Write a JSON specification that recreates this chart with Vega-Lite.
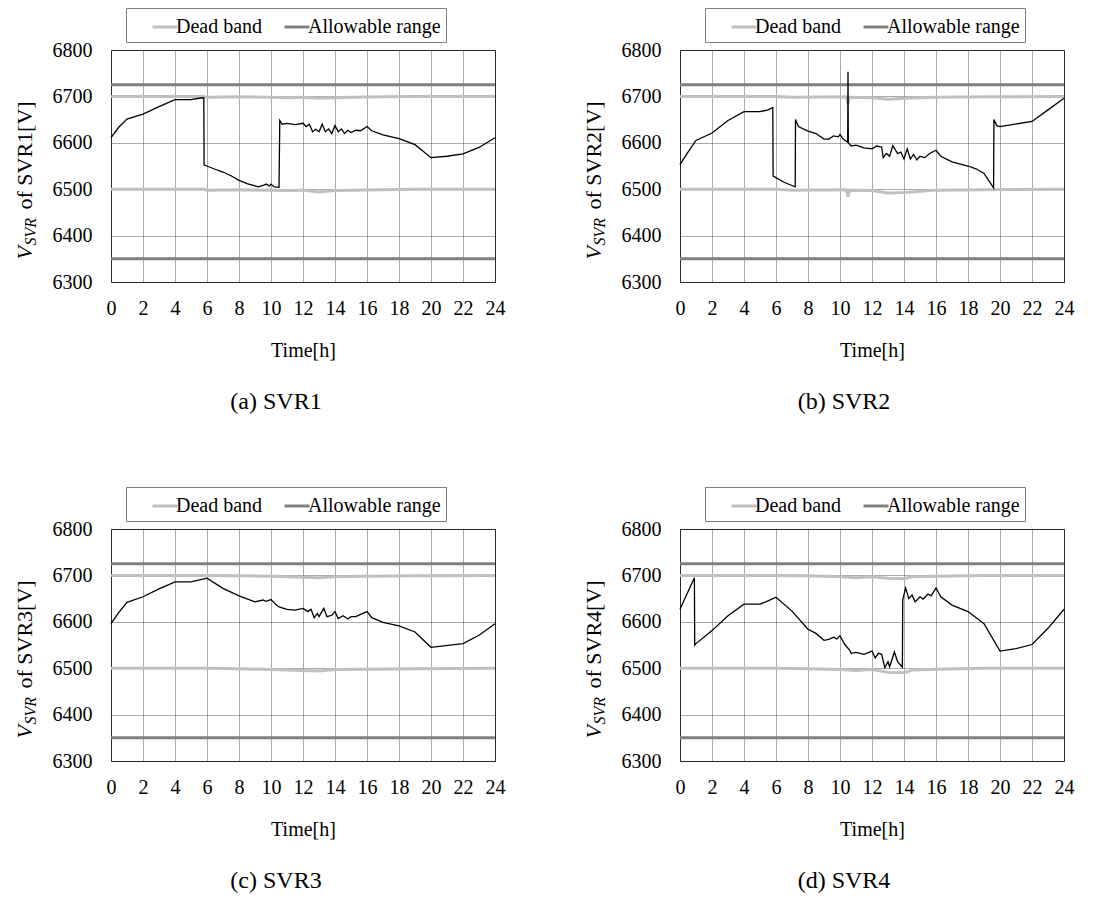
{
  "$schema": "https://vega.github.io/schema/vega-lite/v6.json",
  "background": "white",
  "padding": {"left": 12, "top": 7, "right": 5, "bottom": 5},
  "spacing": 71,
  "resolve": {"scale": {"color": "independent"}, "legend": {"color": "independent"}},
  "datasets": {
    "allow": [
      {"series": "Allowable range", "bound": "upper", "t": 0, "v": 6725},
      {"series": "Allowable range", "bound": "upper", "t": 24, "v": 6725},
      {"series": "Allowable range", "bound": "lower", "t": 0, "v": 6350},
      {"series": "Allowable range", "bound": "lower", "t": 24, "v": 6350}
    ],
    "dead": [
      {"svr": "SVR1", "series": "Dead band", "bound": "upper", "t": 0, "v": 6700},
      {"svr": "SVR1", "series": "Dead band", "bound": "upper", "t": 5.8, "v": 6700},
      {"svr": "SVR1", "series": "Dead band", "bound": "upper", "t": 6, "v": 6698},
      {"svr": "SVR1", "series": "Dead band", "bound": "upper", "t": 8, "v": 6699},
      {"svr": "SVR1", "series": "Dead band", "bound": "upper", "t": 10, "v": 6698},
      {"svr": "SVR1", "series": "Dead band", "bound": "upper", "t": 11, "v": 6697},
      {"svr": "SVR1", "series": "Dead band", "bound": "upper", "t": 12, "v": 6698},
      {"svr": "SVR1", "series": "Dead band", "bound": "upper", "t": 13, "v": 6696},
      {"svr": "SVR1", "series": "Dead band", "bound": "upper", "t": 14, "v": 6697},
      {"svr": "SVR1", "series": "Dead band", "bound": "upper", "t": 15, "v": 6698},
      {"svr": "SVR1", "series": "Dead band", "bound": "upper", "t": 17, "v": 6699},
      {"svr": "SVR1", "series": "Dead band", "bound": "upper", "t": 19, "v": 6700},
      {"svr": "SVR1", "series": "Dead band", "bound": "upper", "t": 24, "v": 6700},
      {"svr": "SVR1", "series": "Dead band", "bound": "lower", "t": 0, "v": 6500},
      {"svr": "SVR1", "series": "Dead band", "bound": "lower", "t": 5.8, "v": 6500},
      {"svr": "SVR1", "series": "Dead band", "bound": "lower", "t": 6, "v": 6498},
      {"svr": "SVR1", "series": "Dead band", "bound": "lower", "t": 8, "v": 6499},
      {"svr": "SVR1", "series": "Dead band", "bound": "lower", "t": 10, "v": 6498},
      {"svr": "SVR1", "series": "Dead band", "bound": "lower", "t": 11, "v": 6497},
      {"svr": "SVR1", "series": "Dead band", "bound": "lower", "t": 12, "v": 6498},
      {"svr": "SVR1", "series": "Dead band", "bound": "lower", "t": 13, "v": 6494},
      {"svr": "SVR1", "series": "Dead band", "bound": "lower", "t": 14, "v": 6497},
      {"svr": "SVR1", "series": "Dead band", "bound": "lower", "t": 15, "v": 6498},
      {"svr": "SVR1", "series": "Dead band", "bound": "lower", "t": 17, "v": 6499},
      {"svr": "SVR1", "series": "Dead band", "bound": "lower", "t": 19, "v": 6500},
      {"svr": "SVR1", "series": "Dead band", "bound": "lower", "t": 24, "v": 6500},
      {"svr": "SVR2", "series": "Dead band", "bound": "upper", "t": 0, "v": 6700},
      {"svr": "SVR2", "series": "Dead band", "bound": "upper", "t": 6, "v": 6700},
      {"svr": "SVR2", "series": "Dead band", "bound": "upper", "t": 7, "v": 6698},
      {"svr": "SVR2", "series": "Dead band", "bound": "upper", "t": 10.4, "v": 6699},
      {"svr": "SVR2", "series": "Dead band", "bound": "upper", "t": 10.5, "v": 6684},
      {"svr": "SVR2", "series": "Dead band", "bound": "upper", "t": 10.6, "v": 6698},
      {"svr": "SVR2", "series": "Dead band", "bound": "upper", "t": 12, "v": 6697},
      {"svr": "SVR2", "series": "Dead band", "bound": "upper", "t": 13, "v": 6694},
      {"svr": "SVR2", "series": "Dead band", "bound": "upper", "t": 14, "v": 6696},
      {"svr": "SVR2", "series": "Dead band", "bound": "upper", "t": 16, "v": 6698},
      {"svr": "SVR2", "series": "Dead band", "bound": "upper", "t": 19, "v": 6699},
      {"svr": "SVR2", "series": "Dead band", "bound": "upper", "t": 24, "v": 6700},
      {"svr": "SVR2", "series": "Dead band", "bound": "lower", "t": 0, "v": 6500},
      {"svr": "SVR2", "series": "Dead band", "bound": "lower", "t": 6, "v": 6500},
      {"svr": "SVR2", "series": "Dead band", "bound": "lower", "t": 7, "v": 6498},
      {"svr": "SVR2", "series": "Dead band", "bound": "lower", "t": 10.4, "v": 6499},
      {"svr": "SVR2", "series": "Dead band", "bound": "lower", "t": 10.5, "v": 6484},
      {"svr": "SVR2", "series": "Dead band", "bound": "lower", "t": 10.6, "v": 6498},
      {"svr": "SVR2", "series": "Dead band", "bound": "lower", "t": 12, "v": 6497},
      {"svr": "SVR2", "series": "Dead band", "bound": "lower", "t": 13, "v": 6492},
      {"svr": "SVR2", "series": "Dead band", "bound": "lower", "t": 14, "v": 6493},
      {"svr": "SVR2", "series": "Dead band", "bound": "lower", "t": 16, "v": 6498},
      {"svr": "SVR2", "series": "Dead band", "bound": "lower", "t": 19, "v": 6499},
      {"svr": "SVR2", "series": "Dead band", "bound": "lower", "t": 24, "v": 6500},
      {"svr": "SVR3", "series": "Dead band", "bound": "upper", "t": 0, "v": 6700},
      {"svr": "SVR3", "series": "Dead band", "bound": "upper", "t": 6, "v": 6700},
      {"svr": "SVR3", "series": "Dead band", "bound": "upper", "t": 8, "v": 6699},
      {"svr": "SVR3", "series": "Dead band", "bound": "upper", "t": 10, "v": 6698},
      {"svr": "SVR3", "series": "Dead band", "bound": "upper", "t": 11, "v": 6697},
      {"svr": "SVR3", "series": "Dead band", "bound": "upper", "t": 13, "v": 6695},
      {"svr": "SVR3", "series": "Dead band", "bound": "upper", "t": 14, "v": 6697},
      {"svr": "SVR3", "series": "Dead band", "bound": "upper", "t": 16, "v": 6698},
      {"svr": "SVR3", "series": "Dead band", "bound": "upper", "t": 19, "v": 6699},
      {"svr": "SVR3", "series": "Dead band", "bound": "upper", "t": 24, "v": 6700},
      {"svr": "SVR3", "series": "Dead band", "bound": "lower", "t": 0, "v": 6500},
      {"svr": "SVR3", "series": "Dead band", "bound": "lower", "t": 6, "v": 6500},
      {"svr": "SVR3", "series": "Dead band", "bound": "lower", "t": 8, "v": 6499},
      {"svr": "SVR3", "series": "Dead band", "bound": "lower", "t": 10, "v": 6497},
      {"svr": "SVR3", "series": "Dead band", "bound": "lower", "t": 11, "v": 6496},
      {"svr": "SVR3", "series": "Dead band", "bound": "lower", "t": 13, "v": 6494},
      {"svr": "SVR3", "series": "Dead band", "bound": "lower", "t": 14, "v": 6497},
      {"svr": "SVR3", "series": "Dead band", "bound": "lower", "t": 16, "v": 6498},
      {"svr": "SVR3", "series": "Dead band", "bound": "lower", "t": 19, "v": 6499},
      {"svr": "SVR3", "series": "Dead band", "bound": "lower", "t": 24, "v": 6500},
      {"svr": "SVR4", "series": "Dead band", "bound": "upper", "t": 0, "v": 6700},
      {"svr": "SVR4", "series": "Dead band", "bound": "upper", "t": 6, "v": 6700},
      {"svr": "SVR4", "series": "Dead band", "bound": "upper", "t": 8, "v": 6699},
      {"svr": "SVR4", "series": "Dead band", "bound": "upper", "t": 10, "v": 6697},
      {"svr": "SVR4", "series": "Dead band", "bound": "upper", "t": 11, "v": 6695},
      {"svr": "SVR4", "series": "Dead band", "bound": "upper", "t": 12, "v": 6697},
      {"svr": "SVR4", "series": "Dead band", "bound": "upper", "t": 13, "v": 6694},
      {"svr": "SVR4", "series": "Dead band", "bound": "upper", "t": 14, "v": 6693},
      {"svr": "SVR4", "series": "Dead band", "bound": "upper", "t": 14.5, "v": 6697},
      {"svr": "SVR4", "series": "Dead band", "bound": "upper", "t": 16, "v": 6698},
      {"svr": "SVR4", "series": "Dead band", "bound": "upper", "t": 19, "v": 6700},
      {"svr": "SVR4", "series": "Dead band", "bound": "upper", "t": 24, "v": 6700},
      {"svr": "SVR4", "series": "Dead band", "bound": "lower", "t": 0, "v": 6500},
      {"svr": "SVR4", "series": "Dead band", "bound": "lower", "t": 6, "v": 6500},
      {"svr": "SVR4", "series": "Dead band", "bound": "lower", "t": 8, "v": 6499},
      {"svr": "SVR4", "series": "Dead band", "bound": "lower", "t": 10, "v": 6497},
      {"svr": "SVR4", "series": "Dead band", "bound": "lower", "t": 11, "v": 6495},
      {"svr": "SVR4", "series": "Dead band", "bound": "lower", "t": 12, "v": 6497},
      {"svr": "SVR4", "series": "Dead band", "bound": "lower", "t": 13, "v": 6491},
      {"svr": "SVR4", "series": "Dead band", "bound": "lower", "t": 14, "v": 6490},
      {"svr": "SVR4", "series": "Dead band", "bound": "lower", "t": 14.5, "v": 6496},
      {"svr": "SVR4", "series": "Dead band", "bound": "lower", "t": 16, "v": 6498},
      {"svr": "SVR4", "series": "Dead band", "bound": "lower", "t": 19, "v": 6500},
      {"svr": "SVR4", "series": "Dead band", "bound": "lower", "t": 24, "v": 6500}
    ],
    "lines": [
      {"svr": "SVR1", "t": 0, "v": 6611}, {"svr": "SVR1", "t": 0.5, "v": 6634}, {"svr": "SVR1", "t": 1, "v": 6651},
      {"svr": "SVR1", "t": 2, "v": 6662}, {"svr": "SVR1", "t": 3, "v": 6678}, {"svr": "SVR1", "t": 4, "v": 6693},
      {"svr": "SVR1", "t": 5, "v": 6693}, {"svr": "SVR1", "t": 5.5, "v": 6696}, {"svr": "SVR1", "t": 5.8, "v": 6697},
      {"svr": "SVR1", "t": 5.82, "v": 6552}, {"svr": "SVR1", "t": 6, "v": 6550}, {"svr": "SVR1", "t": 6.5, "v": 6543},
      {"svr": "SVR1", "t": 7, "v": 6537}, {"svr": "SVR1", "t": 7.5, "v": 6529}, {"svr": "SVR1", "t": 8, "v": 6519},
      {"svr": "SVR1", "t": 8.5, "v": 6512}, {"svr": "SVR1", "t": 9, "v": 6507}, {"svr": "SVR1", "t": 9.2, "v": 6505},
      {"svr": "SVR1", "t": 9.5, "v": 6508}, {"svr": "SVR1", "t": 9.7, "v": 6511}, {"svr": "SVR1", "t": 9.9, "v": 6507},
      {"svr": "SVR1", "t": 10, "v": 6511}, {"svr": "SVR1", "t": 10.2, "v": 6505}, {"svr": "SVR1", "t": 10.5, "v": 6504},
      {"svr": "SVR1", "t": 10.55, "v": 6648}, {"svr": "SVR1", "t": 10.7, "v": 6640}, {"svr": "SVR1", "t": 11, "v": 6642},
      {"svr": "SVR1", "t": 11.5, "v": 6639}, {"svr": "SVR1", "t": 12, "v": 6642}, {"svr": "SVR1", "t": 12.2, "v": 6635},
      {"svr": "SVR1", "t": 12.4, "v": 6640}, {"svr": "SVR1", "t": 12.6, "v": 6624}, {"svr": "SVR1", "t": 12.8, "v": 6629},
      {"svr": "SVR1", "t": 13, "v": 6624}, {"svr": "SVR1", "t": 13.2, "v": 6640}, {"svr": "SVR1", "t": 13.4, "v": 6624},
      {"svr": "SVR1", "t": 13.6, "v": 6630}, {"svr": "SVR1", "t": 13.8, "v": 6620}, {"svr": "SVR1", "t": 14, "v": 6637},
      {"svr": "SVR1", "t": 14.2, "v": 6624}, {"svr": "SVR1", "t": 14.4, "v": 6630}, {"svr": "SVR1", "t": 14.6, "v": 6620},
      {"svr": "SVR1", "t": 14.8, "v": 6627}, {"svr": "SVR1", "t": 15, "v": 6622}, {"svr": "SVR1", "t": 15.3, "v": 6627},
      {"svr": "SVR1", "t": 15.6, "v": 6626}, {"svr": "SVR1", "t": 16, "v": 6635}, {"svr": "SVR1", "t": 16.3, "v": 6626},
      {"svr": "SVR1", "t": 17, "v": 6617}, {"svr": "SVR1", "t": 18, "v": 6609}, {"svr": "SVR1", "t": 19, "v": 6596},
      {"svr": "SVR1", "t": 20, "v": 6568}, {"svr": "SVR1", "t": 21, "v": 6571}, {"svr": "SVR1", "t": 22, "v": 6576},
      {"svr": "SVR1", "t": 23, "v": 6590}, {"svr": "SVR1", "t": 24, "v": 6611},

      {"svr": "SVR2", "t": 0, "v": 6553}, {"svr": "SVR2", "t": 0.5, "v": 6580}, {"svr": "SVR2", "t": 1, "v": 6605},
      {"svr": "SVR2", "t": 2, "v": 6621}, {"svr": "SVR2", "t": 3, "v": 6648}, {"svr": "SVR2", "t": 4, "v": 6667},
      {"svr": "SVR2", "t": 5, "v": 6667}, {"svr": "SVR2", "t": 5.5, "v": 6671}, {"svr": "SVR2", "t": 5.8, "v": 6676},
      {"svr": "SVR2", "t": 5.82, "v": 6528}, {"svr": "SVR2", "t": 6, "v": 6525}, {"svr": "SVR2", "t": 6.5, "v": 6515},
      {"svr": "SVR2", "t": 7, "v": 6508}, {"svr": "SVR2", "t": 7.2, "v": 6505}, {"svr": "SVR2", "t": 7.22, "v": 6650},
      {"svr": "SVR2", "t": 7.4, "v": 6635}, {"svr": "SVR2", "t": 8, "v": 6625}, {"svr": "SVR2", "t": 8.5, "v": 6620},
      {"svr": "SVR2", "t": 9, "v": 6608}, {"svr": "SVR2", "t": 9.3, "v": 6608}, {"svr": "SVR2", "t": 9.6, "v": 6615},
      {"svr": "SVR2", "t": 9.9, "v": 6613}, {"svr": "SVR2", "t": 10, "v": 6618}, {"svr": "SVR2", "t": 10.2, "v": 6608},
      {"svr": "SVR2", "t": 10.48, "v": 6601}, {"svr": "SVR2", "t": 10.5, "v": 6753}, {"svr": "SVR2", "t": 10.52, "v": 6600},
      {"svr": "SVR2", "t": 10.7, "v": 6593}, {"svr": "SVR2", "t": 11, "v": 6595}, {"svr": "SVR2", "t": 11.5, "v": 6589},
      {"svr": "SVR2", "t": 12, "v": 6587}, {"svr": "SVR2", "t": 12.3, "v": 6593}, {"svr": "SVR2", "t": 12.6, "v": 6591},
      {"svr": "SVR2", "t": 12.7, "v": 6568}, {"svr": "SVR2", "t": 12.9, "v": 6577}, {"svr": "SVR2", "t": 13.1, "v": 6571},
      {"svr": "SVR2", "t": 13.3, "v": 6594}, {"svr": "SVR2", "t": 13.6, "v": 6577}, {"svr": "SVR2", "t": 13.8, "v": 6580},
      {"svr": "SVR2", "t": 14, "v": 6565}, {"svr": "SVR2", "t": 14.2, "v": 6587}, {"svr": "SVR2", "t": 14.4, "v": 6565},
      {"svr": "SVR2", "t": 14.6, "v": 6575}, {"svr": "SVR2", "t": 14.8, "v": 6563}, {"svr": "SVR2", "t": 15, "v": 6571},
      {"svr": "SVR2", "t": 15.3, "v": 6568}, {"svr": "SVR2", "t": 15.6, "v": 6577}, {"svr": "SVR2", "t": 16, "v": 6584},
      {"svr": "SVR2", "t": 16.3, "v": 6571}, {"svr": "SVR2", "t": 17, "v": 6559}, {"svr": "SVR2", "t": 18, "v": 6550},
      {"svr": "SVR2", "t": 18.5, "v": 6544}, {"svr": "SVR2", "t": 19, "v": 6534}, {"svr": "SVR2", "t": 19.6, "v": 6503},
      {"svr": "SVR2", "t": 19.62, "v": 6650}, {"svr": "SVR2", "t": 19.8, "v": 6637}, {"svr": "SVR2", "t": 20, "v": 6635},
      {"svr": "SVR2", "t": 22, "v": 6646}, {"svr": "SVR2", "t": 23, "v": 6671}, {"svr": "SVR2", "t": 24, "v": 6696},

      {"svr": "SVR3", "t": 0, "v": 6596}, {"svr": "SVR3", "t": 0.5, "v": 6621}, {"svr": "SVR3", "t": 1, "v": 6642},
      {"svr": "SVR3", "t": 2, "v": 6654}, {"svr": "SVR3", "t": 3, "v": 6671}, {"svr": "SVR3", "t": 4, "v": 6686},
      {"svr": "SVR3", "t": 5, "v": 6686}, {"svr": "SVR3", "t": 6, "v": 6694}, {"svr": "SVR3", "t": 7, "v": 6672},
      {"svr": "SVR3", "t": 8, "v": 6656}, {"svr": "SVR3", "t": 9, "v": 6643}, {"svr": "SVR3", "t": 9.5, "v": 6647},
      {"svr": "SVR3", "t": 9.7, "v": 6644}, {"svr": "SVR3", "t": 10, "v": 6648}, {"svr": "SVR3", "t": 10.3, "v": 6637},
      {"svr": "SVR3", "t": 10.5, "v": 6632}, {"svr": "SVR3", "t": 11, "v": 6627}, {"svr": "SVR3", "t": 11.5, "v": 6625},
      {"svr": "SVR3", "t": 12, "v": 6629}, {"svr": "SVR3", "t": 12.3, "v": 6622}, {"svr": "SVR3", "t": 12.5, "v": 6627},
      {"svr": "SVR3", "t": 12.7, "v": 6609}, {"svr": "SVR3", "t": 12.9, "v": 6618}, {"svr": "SVR3", "t": 13, "v": 6611},
      {"svr": "SVR3", "t": 13.3, "v": 6629}, {"svr": "SVR3", "t": 13.5, "v": 6611}, {"svr": "SVR3", "t": 13.8, "v": 6614},
      {"svr": "SVR3", "t": 14, "v": 6622}, {"svr": "SVR3", "t": 14.2, "v": 6607}, {"svr": "SVR3", "t": 14.5, "v": 6613},
      {"svr": "SVR3", "t": 14.8, "v": 6606}, {"svr": "SVR3", "t": 15, "v": 6611}, {"svr": "SVR3", "t": 15.3, "v": 6611},
      {"svr": "SVR3", "t": 15.6, "v": 6616}, {"svr": "SVR3", "t": 16, "v": 6622}, {"svr": "SVR3", "t": 16.3, "v": 6609},
      {"svr": "SVR3", "t": 17, "v": 6599}, {"svr": "SVR3", "t": 18, "v": 6591}, {"svr": "SVR3", "t": 19, "v": 6578},
      {"svr": "SVR3", "t": 20, "v": 6545}, {"svr": "SVR3", "t": 22, "v": 6553}, {"svr": "SVR3", "t": 23, "v": 6571},
      {"svr": "SVR3", "t": 24, "v": 6596},

      {"svr": "SVR4", "t": 0, "v": 6627}, {"svr": "SVR4", "t": 0.9, "v": 6695}, {"svr": "SVR4", "t": 0.92, "v": 6550},
      {"svr": "SVR4", "t": 1, "v": 6553}, {"svr": "SVR4", "t": 2, "v": 6581}, {"svr": "SVR4", "t": 3, "v": 6613},
      {"svr": "SVR4", "t": 4, "v": 6638}, {"svr": "SVR4", "t": 5, "v": 6638}, {"svr": "SVR4", "t": 5.5, "v": 6645},
      {"svr": "SVR4", "t": 6, "v": 6653}, {"svr": "SVR4", "t": 7, "v": 6623}, {"svr": "SVR4", "t": 7.3, "v": 6611},
      {"svr": "SVR4", "t": 8, "v": 6584}, {"svr": "SVR4", "t": 8.5, "v": 6575}, {"svr": "SVR4", "t": 9, "v": 6560},
      {"svr": "SVR4", "t": 9.3, "v": 6562}, {"svr": "SVR4", "t": 9.6, "v": 6567}, {"svr": "SVR4", "t": 9.8, "v": 6563},
      {"svr": "SVR4", "t": 10, "v": 6570}, {"svr": "SVR4", "t": 10.3, "v": 6551}, {"svr": "SVR4", "t": 10.6, "v": 6539},
      {"svr": "SVR4", "t": 10.7, "v": 6532}, {"svr": "SVR4", "t": 11, "v": 6534}, {"svr": "SVR4", "t": 11.5, "v": 6530},
      {"svr": "SVR4", "t": 12, "v": 6537}, {"svr": "SVR4", "t": 12.2, "v": 6522}, {"svr": "SVR4", "t": 12.4, "v": 6532},
      {"svr": "SVR4", "t": 12.6, "v": 6530}, {"svr": "SVR4", "t": 12.8, "v": 6501}, {"svr": "SVR4", "t": 13, "v": 6514},
      {"svr": "SVR4", "t": 13.1, "v": 6503}, {"svr": "SVR4", "t": 13.4, "v": 6535}, {"svr": "SVR4", "t": 13.6, "v": 6514},
      {"svr": "SVR4", "t": 13.9, "v": 6502}, {"svr": "SVR4", "t": 13.92, "v": 6647}, {"svr": "SVR4", "t": 14.1, "v": 6673},
      {"svr": "SVR4", "t": 14.3, "v": 6650}, {"svr": "SVR4", "t": 14.5, "v": 6658}, {"svr": "SVR4", "t": 14.7, "v": 6643},
      {"svr": "SVR4", "t": 15, "v": 6654}, {"svr": "SVR4", "t": 15.2, "v": 6649}, {"svr": "SVR4", "t": 15.5, "v": 6660},
      {"svr": "SVR4", "t": 15.7, "v": 6656}, {"svr": "SVR4", "t": 16, "v": 6673}, {"svr": "SVR4", "t": 16.3, "v": 6654},
      {"svr": "SVR4", "t": 17, "v": 6636}, {"svr": "SVR4", "t": 18, "v": 6622}, {"svr": "SVR4", "t": 19, "v": 6596},
      {"svr": "SVR4", "t": 20, "v": 6537}, {"svr": "SVR4", "t": 21, "v": 6542}, {"svr": "SVR4", "t": 22, "v": 6551},
      {"svr": "SVR4", "t": 23, "v": 6586}, {"svr": "SVR4", "t": 24, "v": 6627}
    ]
  },
  "vconcat": [
    {
      "spacing": 75,
      "resolve": {"scale": {"color": "independent"}, "legend": {"color": "independent"}},
      "hconcat": [
        {
          "width": 384, "height": 232,
          "title": {"text": "(a) SVR1", "dx": -27},
          "resolve": {"axis": {"y": "independent"}},
          "layer": [
            {
              "data": {"name": "allow"},
              "mark": {"type": "line", "strokeWidth": 3},
              "encoding": {
                "x": {"field": "t", "type": "quantitative", "scale": {"domain": [0, 24], "nice": false}, "axis": {"title": "Time[h]", "values": [0, 2, 4, 6, 8, 10, 12, 14, 16, 18, 20, 22, 24]}},
                "y": {"field": "v", "type": "quantitative", "scale": {"domain": [6300, 6800], "nice": false, "zero": false},
                  "axis": {"orient": "left", "title": "V", "titleFontStyle": "italic", "titleFontSize": 22, "titleX": -80, "titleY": 209, "titleAlign": "left", "titleBaseline": "alphabetic", "titleAngle": 270, "labels": false, "grid": false}},
                "color": {"field": "series", "type": "nominal", "scale": {"domain": ["Dead band", "Allowable range"], "range": ["#c0c0c0", "#808080"]},
                  "legend": {"orient": "none", "legendX": 15, "legendY": -42, "direction": "horizontal", "title": null}},
                "detail": {"field": "bound"}
              }
            },
            {
              "data": {"name": "dead"},
              "transform": [{"filter": "datum.svr === 'SVR1'"}],
              "mark": {"type": "line", "strokeWidth": 3},
              "encoding": {
                "x": {"field": "t", "type": "quantitative", "scale": {"domain": [0, 24], "nice": false}, "axis": {"title": "Time[h]", "values": [0, 2, 4, 6, 8, 10, 12, 14, 16, 18, 20, 22, 24]}},
                "y": {"field": "v", "type": "quantitative", "scale": {"domain": [6300, 6800], "nice": false, "zero": false},
                  "axis": {"orient": "left", "title": "SVR", "titleFontStyle": "italic", "titleFontSize": 16, "titleX": -76, "titleY": 195, "titleAlign": "left", "titleBaseline": "alphabetic", "titleAngle": 270, "labels": false, "grid": false}},
                "color": {"field": "series", "type": "nominal"},
                "detail": {"field": "bound"}
              }
            },
            {
              "data": {"name": "lines"},
              "transform": [{"filter": "datum.svr === 'SVR1'"}],
              "mark": {"type": "line", "color": "black", "strokeWidth": 1.3},
              "encoding": {
                "x": {"field": "t", "type": "quantitative", "scale": {"domain": [0, 24], "nice": false}, "axis": {"title": "Time[h]", "values": [0, 2, 4, 6, 8, 10, 12, 14, 16, 18, 20, 22, 24]}},
                "y": {"field": "v", "type": "quantitative", "scale": {"domain": [6300, 6800], "nice": false, "zero": false},
                  "axis": {"orient": "left", "title": "of SVR1[V]", "titleFontSize": 22, "titleX": -80, "titleY": 159, "titleAlign": "left", "titleBaseline": "alphabetic", "titleAngle": 270, "grid": true, "format": "d", "values": [6300, 6400, 6500, 6600, 6700, 6800]}}
              }
            }
          ]
        },
        {
          "width": 384, "height": 232,
          "title": {"text": "(b) SVR2", "dx": -28},
          "resolve": {"axis": {"y": "independent"}},
          "layer": [
            {
              "data": {"name": "allow"},
              "mark": {"type": "line", "strokeWidth": 3},
              "encoding": {
                "x": {"field": "t", "type": "quantitative", "scale": {"domain": [0, 24], "nice": false}, "axis": {"title": "Time[h]", "values": [0, 2, 4, 6, 8, 10, 12, 14, 16, 18, 20, 22, 24]}},
                "y": {"field": "v", "type": "quantitative", "scale": {"domain": [6300, 6800], "nice": false, "zero": false},
                  "axis": {"orient": "left", "title": "V", "titleFontStyle": "italic", "titleFontSize": 22, "titleX": -80, "titleY": 209, "titleAlign": "left", "titleBaseline": "alphabetic", "titleAngle": 270, "labels": false, "grid": false}},
                "color": {"field": "series", "type": "nominal", "scale": {"domain": ["Dead band", "Allowable range"], "range": ["#c0c0c0", "#808080"]},
                  "legend": {"orient": "none", "legendX": 25, "legendY": -42, "direction": "horizontal", "title": null}},
                "detail": {"field": "bound"}
              }
            },
            {
              "data": {"name": "dead"},
              "transform": [{"filter": "datum.svr === 'SVR2'"}],
              "mark": {"type": "line", "strokeWidth": 3},
              "encoding": {
                "x": {"field": "t", "type": "quantitative", "scale": {"domain": [0, 24], "nice": false}, "axis": {"title": "Time[h]", "values": [0, 2, 4, 6, 8, 10, 12, 14, 16, 18, 20, 22, 24]}},
                "y": {"field": "v", "type": "quantitative", "scale": {"domain": [6300, 6800], "nice": false, "zero": false},
                  "axis": {"orient": "left", "title": "SVR", "titleFontStyle": "italic", "titleFontSize": 16, "titleX": -76, "titleY": 195, "titleAlign": "left", "titleBaseline": "alphabetic", "titleAngle": 270, "labels": false, "grid": false}},
                "color": {"field": "series", "type": "nominal"},
                "detail": {"field": "bound"}
              }
            },
            {
              "data": {"name": "lines"},
              "transform": [{"filter": "datum.svr === 'SVR2'"}],
              "mark": {"type": "line", "color": "black", "strokeWidth": 1.3},
              "encoding": {
                "x": {"field": "t", "type": "quantitative", "scale": {"domain": [0, 24], "nice": false}, "axis": {"title": "Time[h]", "values": [0, 2, 4, 6, 8, 10, 12, 14, 16, 18, 20, 22, 24]}},
                "y": {"field": "v", "type": "quantitative", "scale": {"domain": [6300, 6800], "nice": false, "zero": false},
                  "axis": {"orient": "left", "title": "of SVR2[V]", "titleFontSize": 22, "titleX": -80, "titleY": 159, "titleAlign": "left", "titleBaseline": "alphabetic", "titleAngle": 270, "grid": true, "format": "d", "values": [6300, 6400, 6500, 6600, 6700, 6800]}}
              }
            }
          ]
        }
      ]
    },
    {
      "spacing": 75,
      "resolve": {"scale": {"color": "independent"}, "legend": {"color": "independent"}},
      "hconcat": [
        {
          "width": 384, "height": 232,
          "title": {"text": "(c) SVR3", "dx": -27},
          "resolve": {"axis": {"y": "independent"}},
          "layer": [
            {
              "data": {"name": "allow"},
              "mark": {"type": "line", "strokeWidth": 3},
              "encoding": {
                "x": {"field": "t", "type": "quantitative", "scale": {"domain": [0, 24], "nice": false}, "axis": {"title": "Time[h]", "values": [0, 2, 4, 6, 8, 10, 12, 14, 16, 18, 20, 22, 24]}},
                "y": {"field": "v", "type": "quantitative", "scale": {"domain": [6300, 6800], "nice": false, "zero": false},
                  "axis": {"orient": "left", "title": "V", "titleFontStyle": "italic", "titleFontSize": 22, "titleX": -80, "titleY": 209, "titleAlign": "left", "titleBaseline": "alphabetic", "titleAngle": 270, "labels": false, "grid": false}},
                "color": {"field": "series", "type": "nominal", "scale": {"domain": ["Dead band", "Allowable range"], "range": ["#c0c0c0", "#808080"]},
                  "legend": {"orient": "none", "legendX": 15, "legendY": -42, "direction": "horizontal", "title": null}},
                "detail": {"field": "bound"}
              }
            },
            {
              "data": {"name": "dead"},
              "transform": [{"filter": "datum.svr === 'SVR3'"}],
              "mark": {"type": "line", "strokeWidth": 3},
              "encoding": {
                "x": {"field": "t", "type": "quantitative", "scale": {"domain": [0, 24], "nice": false}, "axis": {"title": "Time[h]", "values": [0, 2, 4, 6, 8, 10, 12, 14, 16, 18, 20, 22, 24]}},
                "y": {"field": "v", "type": "quantitative", "scale": {"domain": [6300, 6800], "nice": false, "zero": false},
                  "axis": {"orient": "left", "title": "SVR", "titleFontStyle": "italic", "titleFontSize": 16, "titleX": -76, "titleY": 195, "titleAlign": "left", "titleBaseline": "alphabetic", "titleAngle": 270, "labels": false, "grid": false}},
                "color": {"field": "series", "type": "nominal"},
                "detail": {"field": "bound"}
              }
            },
            {
              "data": {"name": "lines"},
              "transform": [{"filter": "datum.svr === 'SVR3'"}],
              "mark": {"type": "line", "color": "black", "strokeWidth": 1.3},
              "encoding": {
                "x": {"field": "t", "type": "quantitative", "scale": {"domain": [0, 24], "nice": false}, "axis": {"title": "Time[h]", "values": [0, 2, 4, 6, 8, 10, 12, 14, 16, 18, 20, 22, 24]}},
                "y": {"field": "v", "type": "quantitative", "scale": {"domain": [6300, 6800], "nice": false, "zero": false},
                  "axis": {"orient": "left", "title": "of SVR3[V]", "titleFontSize": 22, "titleX": -80, "titleY": 159, "titleAlign": "left", "titleBaseline": "alphabetic", "titleAngle": 270, "grid": true, "format": "d", "values": [6300, 6400, 6500, 6600, 6700, 6800]}}
              }
            }
          ]
        },
        {
          "width": 384, "height": 232,
          "title": {"text": "(d) SVR4", "dx": -28},
          "resolve": {"axis": {"y": "independent"}},
          "layer": [
            {
              "data": {"name": "allow"},
              "mark": {"type": "line", "strokeWidth": 3},
              "encoding": {
                "x": {"field": "t", "type": "quantitative", "scale": {"domain": [0, 24], "nice": false}, "axis": {"title": "Time[h]", "values": [0, 2, 4, 6, 8, 10, 12, 14, 16, 18, 20, 22, 24]}},
                "y": {"field": "v", "type": "quantitative", "scale": {"domain": [6300, 6800], "nice": false, "zero": false},
                  "axis": {"orient": "left", "title": "V", "titleFontStyle": "italic", "titleFontSize": 22, "titleX": -80, "titleY": 209, "titleAlign": "left", "titleBaseline": "alphabetic", "titleAngle": 270, "labels": false, "grid": false}},
                "color": {"field": "series", "type": "nominal", "scale": {"domain": ["Dead band", "Allowable range"], "range": ["#c0c0c0", "#808080"]},
                  "legend": {"orient": "none", "legendX": 25, "legendY": -42, "direction": "horizontal", "title": null}},
                "detail": {"field": "bound"}
              }
            },
            {
              "data": {"name": "dead"},
              "transform": [{"filter": "datum.svr === 'SVR4'"}],
              "mark": {"type": "line", "strokeWidth": 3},
              "encoding": {
                "x": {"field": "t", "type": "quantitative", "scale": {"domain": [0, 24], "nice": false}, "axis": {"title": "Time[h]", "values": [0, 2, 4, 6, 8, 10, 12, 14, 16, 18, 20, 22, 24]}},
                "y": {"field": "v", "type": "quantitative", "scale": {"domain": [6300, 6800], "nice": false, "zero": false},
                  "axis": {"orient": "left", "title": "SVR", "titleFontStyle": "italic", "titleFontSize": 16, "titleX": -76, "titleY": 195, "titleAlign": "left", "titleBaseline": "alphabetic", "titleAngle": 270, "labels": false, "grid": false}},
                "color": {"field": "series", "type": "nominal"},
                "detail": {"field": "bound"}
              }
            },
            {
              "data": {"name": "lines"},
              "transform": [{"filter": "datum.svr === 'SVR4'"}],
              "mark": {"type": "line", "color": "black", "strokeWidth": 1.3},
              "encoding": {
                "x": {"field": "t", "type": "quantitative", "scale": {"domain": [0, 24], "nice": false}, "axis": {"title": "Time[h]", "values": [0, 2, 4, 6, 8, 10, 12, 14, 16, 18, 20, 22, 24]}},
                "y": {"field": "v", "type": "quantitative", "scale": {"domain": [6300, 6800], "nice": false, "zero": false},
                  "axis": {"orient": "left", "title": "of SVR4[V]", "titleFontSize": 22, "titleX": -80, "titleY": 159, "titleAlign": "left", "titleBaseline": "alphabetic", "titleAngle": 270, "grid": true, "format": "d", "values": [6300, 6400, 6500, 6600, 6700, 6800]}}
              }
            }
          ]
        }
      ]
    }
  ],
  "config": {
    "font": "Liberation Serif, Times New Roman, serif",
    "view": {"stroke": "black", "strokeWidth": 1},
    "style": {"guide-title": {"fontWeight": "normal", "font": "Liberation Serif, Times New Roman, serif"}, "guide-label": {"font": "Liberation Serif, Times New Roman, serif"}},
    "axis": {
      "domain": false, "ticks": false,
      "labelFont": "Liberation Serif, Times New Roman, serif", "labelFontSize": 20, "labelColor": "black", "labelFlush": false, "labelOverlap": false,
      "titleFont": "Liberation Serif, Times New Roman, serif", "titleFontSize": 20, "titleFontWeight": "normal", "titleColor": "black",
      "gridColor": "#555555", "gridDash": [1, 1], "gridWidth": 1, "gridOpacity": 1
    },
    "axisX": {"labelPadding": 16, "titlePadding": 22, "grid": true, "titleFontWeight": "normal"},
    "axisY": {"labelPadding": 19, "titleFontWeight": "normal"},
    "legend": {
      "symbolType": "stroke", "symbolStrokeWidth": 3, "symbolSize": 625,
      "labelFont": "Liberation Serif, Times New Roman, serif", "labelFontSize": 20, "labelColor": "black", "labelLimit": 300,
      "strokeColor": "#808080", "padding": 5, "columnPadding": 0,
      "symbolOffset": 20, "labelOffset": -3
    },
    "title": {"orient": "bottom", "anchor": "middle", "frame": "group", "font": "Liberation Serif, Times New Roman, serif", "fontSize": 24, "fontWeight": "normal", "color": "black", "offset": 30}
  }
}
